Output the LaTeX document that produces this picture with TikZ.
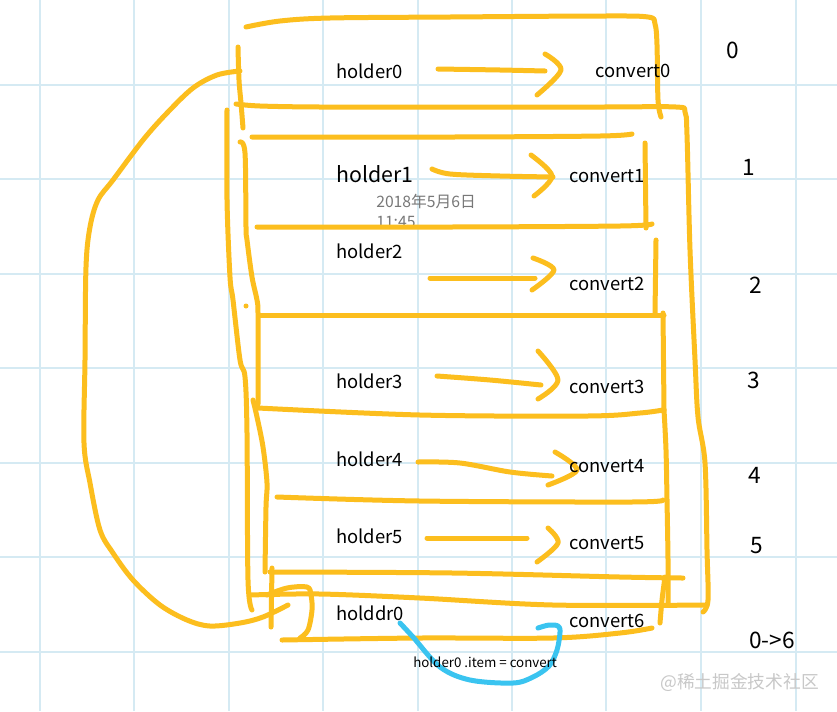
\documentclass[tikz,border=0pt]{standalone}
\usepackage{fontspec}
\setmainfont{Noto Sans CJK SC}
\newfontfamily\cjk{Noto Sans CJK SC}
\definecolor{ochre}{RGB}{252,190,30}
\definecolor{skyb}{RGB}{58,196,240}
\definecolor{gridc}{RGB}{213,234,243}
\definecolor{dategray}{RGB}{120,120,120}
\definecolor{wmgray}{RGB}{200,200,200}
\tikzset{
  ypen/.style={draw=ochre,line width=3.75pt,line cap=round,line join=round},
  bpen/.style={draw=skyb,line width=3.75pt,line cap=round,line join=round},
  gridline/.style={draw=gridc,line width=0.8pt},
  lbl/.style={inner sep=0pt,anchor=base west,font=\fontsize{13.8}{16}\selectfont},
  big/.style={inner sep=0pt,anchor=base west,font=\fontsize{16}{18}\selectfont},
  num/.style={inner sep=0pt,anchor=base west,font=\fontsize{17}{19}\selectfont},
  small/.style={inner sep=0pt,anchor=base west,font=\fontsize{10}{12}\selectfont},
  datel/.style={inner sep=0pt,anchor=base west,text=dategray,font=\fontsize{11.8}{14}\selectfont},
  wm/.style={inner sep=0pt,anchor=base west,text=wmgray,font=\fontsize{13.3}{15}\selectfont},
  sm/.style={smooth,tension=0.55}
}
\begin{document}
\begin{tikzpicture}[x=0.75pt,y=-0.75pt]
\useasboundingbox (0,0) rectangle (837,711);
\fill[white] (0,0) rectangle (837,711);
% grid
\foreach \gy in {85,179,274,368,463,557,652} \draw[gridline] (0,\gy) -- (837,\gy);
\foreach \gx in {40,134,229,323,418,512,606,701,796} \draw[gridline] (\gx,0) -- (\gx,711);

% date text (partly hidden)
\node[datel] (date) at (376,207) {2018年5月6日};
\begin{scope}
  \clip (370,205) rectangle (440,226);
  \node[datel] (time) at (376,227) {11:45};
\end{scope}

% box 0
\draw[ypen] plot[sm] coordinates {(246,27) (280,21) (330,18) (450,17) (600,16) (648,17) (655,24) (657,45) (658,100) (661,117)};
\draw[ypen] plot[sm] coordinates {(238,47) (239,80) (241,103) (243,128)};
\draw[ypen] plot[sm] coordinates {(236,104) (260,106) (320,107) (450,107) (600,107) (676,107) (685,112) (687,135) (690,250) (695,360) (698,417) (705,463) (707,550) (708,600) (703,612)};
% big loop
\draw[ypen] plot[sm] coordinates {(240,71) (217,75) (193,88) (167,113) (143,140) (113,180) (98,200) (90,227) (86,267) (85,360) (84,443) (90,483) (100,530) (113,553) (133,580) (160,605) (187,620) (210,626) (240,623) (263,617) (288,605)};
% outer left line
\draw[ypen] plot[sm] coordinates {(227,110) (227,200) (230,277) (233,300) (240,360) (245,377) (247,433) (248,580) (252,610)};
% inner left line
\draw[ypen] plot[sm] coordinates {(240,142) (245,153) (246,227) (247,240) (252,277) (257,300) (258,313) (258,360) (258,404)};
\fill[ochre] (246,306) circle (2.5);
% box 4-5 left
\draw[ypen] plot[sm] coordinates {(253,400) (257,417) (263,447) (267,483) (266,507) (265,572)};
% box 1
\draw[ypen] plot[sm] coordinates {(252,137) (453,137) (600,136) (632,134)};
\draw[ypen] (645,143) -- (646,228);
\draw[ypen] plot[sm] coordinates {(257,227) (450,227) (620,226) (652,224)};
% box 2
\draw[ypen] (656,240) -- (655,313);
\draw[ypen] plot[sm] coordinates {(260,315) (500,315) (664,315)};
% box 3
\draw[ypen] (663,313) -- (664,410);
\draw[ypen] plot[sm] coordinates {(258,408) (420,415) (587,416) (640,413) (663,410)};
% box 4
\draw[ypen] plot[sm] coordinates {(664,410) (666,450) (667,500) (668,560) (668,605)};
\draw[ypen] plot[sm] coordinates {(660,623) (662,600) (665,577)};
\draw[ypen] plot[sm] coordinates {(277,497) (420,501) (630,502) (663,500)};
% box 5
\draw[ypen] plot[sm] coordinates {(270,572) (453,573) (620,577) (683,578)};
% long bottom line
\draw[ypen] plot[sm] coordinates {(250,595) (320,594) (420,598) (553,605) (707,605)};
% box 6
\draw[ypen] plot[sm] coordinates {(282,640) (420,638) (553,638) (620,633) (652,628)};
\draw[ypen] plot[sm] coordinates {(267,595) (287,588) (307,587) (311,595) (312,610) (308,630) (300,638)};
\draw[ypen] (272,568) -- (271,627);

% arrows
\draw[ypen] plot[sm] coordinates {(438,69) (500,70) (545,71)};
\draw[ypen] plot[sm] coordinates {(545,54) (561,70) (537,95)};
\draw[ypen] plot[sm] coordinates {(432,169) (450,174) (500,176) (553,177)};
\draw[ypen] plot[sm] coordinates {(531,155) (552,176) (534,196)};
\draw[ypen] (430,278) -- (535,278);
\draw[ypen] plot[sm] coordinates {(533,258) (554,270) (532,290)};
\draw[ypen] plot[sm] coordinates {(437,376) (490,380) (541,385)};
\draw[ypen] plot[sm] coordinates {(538,351) (558,380) (538,399)};
\draw[ypen] plot[sm] coordinates {(418,462) (460,463) (510,472) (552,476)};
\draw[ypen] plot[sm] coordinates {(555,452) (577,470) (548,485)};
\draw[ypen] (427,538) -- (527,538);
\draw[ypen] plot[sm] coordinates {(548,528) (558,543) (537,562)};

% blue arrow
\draw[bpen] plot[sm] coordinates {(400,623) (413,637) (440,667) (470,680) (513,683) (533,677) (549,666) (557,650) (560,632) (558,626) (549,625) (538,628)};

% labels
\node[lbl] (h0) at (336,78) {holder0};
\node[big] (h1) at (336,182) {holder1};
\node[lbl] (h2) at (336,258) {holder2};
\node[lbl] (h3) at (336,388) {holder3};
\node[lbl] (h4) at (336,466) {holder4};
\node[lbl] (h5) at (336,543) {holder5};
\node[lbl] (h6) at (336,620) {holddr0};
\node[lbl] (c0) at (595,77) {convert0};
\node[lbl] (c1) at (569,182) {convert1};
\node[lbl] (c2) at (569,290) {convert2};
\node[lbl] (c3) at (569,393) {convert3};
\node[lbl] (c4) at (569,472) {convert4};
\node[lbl] (c5) at (569,549) {convert5};
\node[lbl] (c6) at (569,627) {convert6};
\node[small] (item) at (413,667) {holder0 .item = convert};
\node[num] (n0) at (726,58) {0};
\node[num] (n1) at (742,175) {1};
\node[num] (n2) at (749,293) {2};
\node[num] (n3) at (747,388) {3};
\node[num] (n4) at (748,483) {4};
\node[num] (n5) at (750,553) {5};
\node[num] (n6) at (749,648) {0->6};
\node[wm] (wmk) at (660,688) {@稀土掘金技术社区};
\end{tikzpicture}
\end{document}
